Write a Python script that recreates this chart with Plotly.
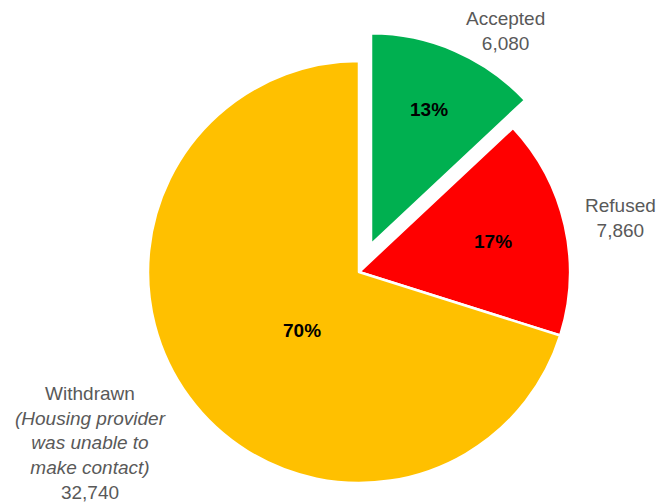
import math
import plotly.graph_objects as go

# Outcome of referrals
categories = ["Accepted", "Refused", "Withdrawn"]
counts = [6080, 7860, 32740]
notes = ["", "", "<i>(Housing provider<br>was unable to<br>make contact)</i>"]
slice_colors = ["#00B050", "#FF0000", "#FFC000"]

W, H = 657, 502
CX, CY, R = 359, 272, 211      # pie centre and radius in pixels
PULL = 0.143                   # explode distance of the first slice, as a fraction of R
BORDER = 2.5
CLEAR = "rgba(0,0,0,0)"
LABEL_FONT = dict(family="Liberation Sans, Arial, sans-serif", size=19, color="#595959")
PCT_FONT = dict(family="Liberation Sans, Arial, sans-serif", size=19, color="#000000")


def pie_domain(cx, cy, r):
    return dict(x=[(cx - r) / W, (cx + r) / W],
                y=[1 - (cy + r) / H, 1 - (cy - r) / H])


total = sum(counts)
mid_angle = 2 * math.pi * (counts[0] / 2) / total   # clockwise from 12 o'clock
off_x = PULL * R * math.sin(mid_angle)
off_y = -PULL * R * math.cos(mid_angle)

fig = go.Figure()

# Refused and Withdrawn slices (Accepted slot left empty)
fig.add_trace(go.Pie(
    labels=categories,
    values=counts,
    sort=False,
    direction="clockwise",
    rotation=0,
    marker=dict(colors=[CLEAR] + slice_colors[1:],
                line=dict(color="white", width=[0, BORDER, BORDER])),
    textinfo="none",
    hoverinfo="label+value+percent",
    showlegend=False,
    domain=pie_domain(CX, CY, R),
))

# Accepted slice, exploded outward along its mid-angle
fig.add_trace(go.Pie(
    labels=[categories[0], "Other"],
    values=[counts[0], total - counts[0]],
    sort=False,
    direction="clockwise",
    rotation=0,
    marker=dict(colors=[slice_colors[0], CLEAR],
                line=dict(color="white", width=[BORDER, 0])),
    textinfo="none",
    hoverinfo="skip",
    showlegend=False,
    domain=pie_domain(CX + off_x, CY + off_y, R),
))


def paper(px, py):
    return px / W, 1 - py / H


annotations = []

# Percentage labels inside the slices
pct_pos = [(429, 109), (493, 241), (302, 330)]
for n, (px, py) in zip(counts, pct_pos):
    x, y = paper(px, py)
    annotations.append(dict(
        text=f"<b>{round(100 * n / total)}%</b>",
        x=x, y=y, xref="paper", yref="paper",
        xanchor="center", yanchor="middle", showarrow=False,
        font=PCT_FONT,
    ))

# Outside category labels
label_pos = [(505, 31), (620, 218), (90, 443)]
for cat, n, note, (px, py) in zip(categories, counts, notes, label_pos):
    lines = [cat] + ([note] if note else []) + [f"{n:,}"]
    x, y = paper(px, py)
    annotations.append(dict(
        text="<br>".join(lines),
        x=x, y=y, xref="paper", yref="paper",
        xanchor="center", yanchor="middle", showarrow=False,
        align="center", font=LABEL_FONT,
    ))

fig.update_layout(
    width=W, height=H,
    margin=dict(l=0, r=0, t=0, b=0),
    paper_bgcolor="white",
    plot_bgcolor="white",
    annotations=annotations,
)

fig.write_html("out.html")
